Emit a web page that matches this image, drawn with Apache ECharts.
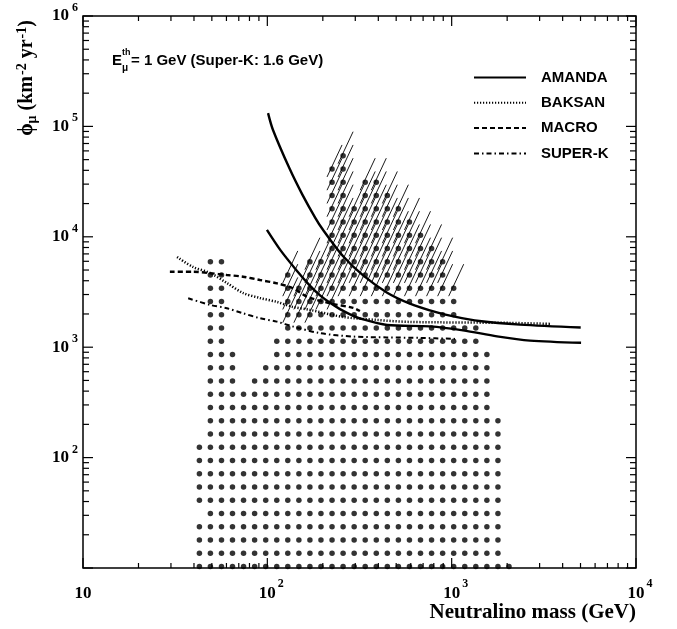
<!DOCTYPE html>
<html><head><meta charset="utf-8">
<script src="https://cdn.jsdelivr.net/npm/echarts@6/dist/echarts.min.js"></script>
<style>html,body{margin:0;padding:0;background:#fff}#c{width:677px;height:629px}</style>
</head><body><div id="c"></div>
<script>
// ---- data ----
// bin centres of the model grid (dots)
const massBins = [42.8, 49.1, 56.4, 64.7, 74.3, 85.3, 98.0, 112.5, 129.1, 148.3, 170.2, 195.4, 224.4, 257.6, 295.8, 339.6, 390.0, 447.7, 514.0, 590.2, 677.6, 778.0, 893.3, 1025.6, 1177.6, 1352.1, 1552.4, 1782.4, 2046.5];
const fluxBins = [10.34, 13.63, 17.97, 23.69, 31.23, 41.17, 54.28, 71.56, 94.3, 124.3, 163.9, 216.1, 284.9, 375.6, 495.1, 652.7, 860.5, 1134, 1495, 1971, 2598, 3425, 4515, 5952, 7847, 10340, 13630, 17970, 23690, 31230, 41170, 54280];
// occupied mass-bin ranges (inclusive) for each flux bin
const rowSpans = [
  [[0,28]], [[0,27]], [[0,27]], [[0,27]], [[1,27]],
  [[0,27]], [[0,27]], [[0,27]], [[0,27]], [[0,27]],
  [[1,27]], [[1,27]], [[1,26]], [[1,26]],
  [[1,3],[5,26]], [[1,3],[6,26]], [[1,3],[7,26]],
  [[1,2],[7,25]], [[1,2],[8,25]],
  [[1,2],[8,23]], [[1,2],[8,23]], [[1,2],[8,23]],
  [[1,2],[8,8],[10,22]], [[1,2],[10,22]],
  [[12,21]], [[12,20]], [[12,19]], [[12,18]],
  [[12,13],[15,17]], [[12,13],[15,16]], [[12,13]], [[13,13]]
];
// first hatched flux bin for each mass bin (null = no hatching)
const hatchFromRow = [null,null,null,null,null,null,null,null,19,19,19,20,20,21,21,21,21,21,21,21,21,21,21,21,21,21,21,21,21];

const amandaUpper = [[100.9,131800],[107.2,93300],[131.8,41700],[154.9,24100],[182,14860],[199.5,11700],[257,6700],[331,4467],[446.7,3119],[588.8,2500],[831.8,2065],[1023,1901],[1413,1726],[2344,1600],[5012,1507]];
const amandaLower = [[99.5,11535],[117.2,7656],[144.9,4909],[170.6,3597],[193.2,2951],[218.8,2523],[247.7,2213],[281.2,1986],[318.4,1820],[446.7,1589],[763.8,1545],[1153,1422],[1762,1253],[2661,1146],[5035,1096]];
const baksan = [[32.4,6560],[39.5,5330],[48.9,4700],[60.4,3815],[73.8,3100],[91.2,2790],[112.9,2570],[137.8,2315],[170.6,2175],[257.6,1880],[393.6,1765],[594,1694],[2075,1660],[3420,1626]];
const macro = [[29.6,4830],[39.5,4830],[48.9,4680],[60.4,4510],[73.8,4350],[91.2,4060],[112.9,3790],[137.8,3420],[164,2870],[218.8,2500],[291.7,2270],[318,2130]];
const superK = [[37.2,2775],[48.9,2415],[60.3,2255],[73.7,2030],[91.2,1830],[112.5,1705],[138.3,1536],[193,1340],[293,1248],[444,1227],[674,1214],[1042,1189]];

const xDecades = [10, 100, 1000, 10000];
const yDecades = [10, 100, 1000, 10000, 100000, 1000000];
const minorMult = [2,3,4,5,6,7,8,9];
const legendNames = ['AMANDA','BAKSAN','MACRO','SUPER-K'];

// ---- build marks ----
const X_MIN = 10, X_MAX = 10000, Y_MIN = 10, Y_MAX = 1000000;
const dots = [], hatched = [];
rowSpans.forEach((spans, j) => {
  spans.forEach(([a,b]) => {
    for (let i = a; i <= b; i++) {
      dots.push([massBins[i], fluxBins[j]]);
      if (hatchFromRow[i] !== null && j >= hatchFromRow[i]) hatched.push([massBins[i], fluxBins[j]]);
    }
  });
});
const ticks = [];
xDecades.forEach((d, k) => {
  ticks.push([d, 100, 0, 10]);
  if (k < xDecades.length - 1) minorMult.forEach(m => ticks.push([d*m, 100, 0, 5]));
});
yDecades.forEach((d, k) => {
  ticks.push([100, d, 1, 10]);
  if (k < yDecades.length - 1) minorMult.forEach(m => ticks.push([100, d*m, 1, 6]));
});

const SERIF = '"Liberation Serif","Times New Roman",serif';
const SANS = '"Liberation Sans",Arial,Helvetica,sans-serif';

const chart = echarts.init(document.getElementById('c'), null, {renderer:'canvas'});
const lineBase = {type:'line', showSymbol:false, symbol:'none', smooth:0.3, silent:true, z:5};
chart.setOption({
  animation:false,
  backgroundColor:'#fff',
  grid:{left:83, right:41, top:16, bottom:61, containLabel:false, outerBoundsMode:'none', show:true, borderColor:'#000', borderWidth:1.5, backgroundColor:'transparent'},
  xAxis:{type:'log', logBase:10, min:X_MIN, max:X_MAX,
    axisLine:{show:false}, axisTick:{show:false}, splitLine:{show:false}, minorTick:{show:false},
    axisLabel:{margin:10, color:'#000', showMinLabel:true, showMaxLabel:true,
      formatter:function(v){const e=Math.round(Math.log10(v)); return e===1?'{p|1}{b|10}{p|1}':'{p|'+e+'}{b|10}{s|'+e+'}';},
      rich:{b:{fontFamily:SERIF,fontWeight:'bold',fontSize:17,color:'#000'},
            s:{fontFamily:SERIF,fontWeight:'bold',fontSize:12,color:'#000',padding:[0,0,20,2]},
            p:{fontFamily:SERIF,fontWeight:'bold',fontSize:12,color:'rgba(0,0,0,0)',padding:[0,2,20,0]}}}},
  yAxis:{type:'log', logBase:10, min:Y_MIN, max:Y_MAX,
    axisLine:{show:false}, axisTick:{show:false}, splitLine:{show:false}, minorTick:{show:false},
    axisLabel:{margin:5, color:'#000', showMinLabel:true, showMaxLabel:true,
      formatter:function(v){const e=Math.round(Math.log10(v)); return e<=1?'':'{b|10}{s|'+e+'}';},
      rich:{b:{fontFamily:SERIF,fontWeight:'bold',fontSize:17,color:'#000'},
            s:{fontFamily:SERIF,fontWeight:'bold',fontSize:12,color:'#000',padding:[0,0,16,3]}}}},
  legend:{data:legendNames, orient:'vertical', left:473, top:70, padding:0, itemWidth:52, itemHeight:14, itemGap:10.3,
    selectedMode:false, itemStyle:{opacity:0},
    textStyle:{fontFamily:SANS, fontWeight:'bold', fontSize:15, color:'#000', padding:[0,0,0,10]}},
  graphic:[
    {type:'text', x:636, y:613, silent:true, style:{text:'Neutralino mass (GeV)', fontFamily:SERIF, fontWeight:'bold', fontSize:21, fill:'#000', align:'right', textAlign:'right', verticalAlign:'middle', textVerticalAlign:'middle'}},
    {type:'text', x:27, y:78, rotation:Math.PI/2, silent:true, style:{
      text:'{a|ϕ}{sub|μ}{a| (km}{sup|-2}{a| yr}{sup|-1}{a|)}',
      rich:{a:{fontFamily:SERIF,fontWeight:'bold',fontSize:20,fill:'#000'},
            sub:{fontFamily:SERIF,fontWeight:'bold',fontSize:14,fill:'#000',padding:[10,0,0,0]},
            sup:{fontFamily:SERIF,fontWeight:'bold',fontSize:14,fill:'#000',padding:[0,0,10,1]}},
      fill:'#000', align:'center', textAlign:'center', verticalAlign:'middle', textVerticalAlign:'middle'}},
    {type:'text', x:112, y:61, silent:true, style:{text:'E', fontFamily:SANS, fontWeight:'bold', fontSize:15, fill:'#000', verticalAlign:'middle', textVerticalAlign:'middle'}},
    {type:'text', x:122, y:53, silent:true, style:{text:'th', fontFamily:SANS, fontWeight:'bold', fontSize:9, fill:'#000', verticalAlign:'middle', textVerticalAlign:'middle'}},
    {type:'text', x:122, y:68, silent:true, style:{text:'μ', fontFamily:SANS, fontWeight:'bold', fontSize:10, fill:'#000', verticalAlign:'middle', textVerticalAlign:'middle'}},
    {type:'text', x:131, y:61, silent:true, style:{text:'= 1 GeV (Super-K: 1.6 GeV)', fontFamily:SANS, fontWeight:'bold', fontSize:15, fill:'#000', verticalAlign:'middle', textVerticalAlign:'middle'}}
  ],
  series:[
    {type:'scatter', name:'models', data:dots, symbol:'circle', symbolSize:5.5, itemStyle:{color:'#000'}, silent:true, clip:false, z:2},
    {type:'custom', name:'hatch', data:hatched, silent:true, z:3,
      renderItem:function(params, api){
        const p = api.coord([api.value(0), api.value(1)]);
        return {type:'line', shape:{x1:p[0]-5, y1:p[1]+8, x2:p[0]+10, y2:p[1]-24}, style:{stroke:'#000', lineWidth:0.9}};
      }},
    Object.assign({}, lineBase, {name:'AMANDA', data:amandaUpper, lineStyle:{color:'#000', width:2.4, type:'solid'}, itemStyle:{color:'#000'}}),
    Object.assign({}, lineBase, {name:'AMANDA', data:amandaLower, lineStyle:{color:'#000', width:2.4, type:'solid'}, itemStyle:{color:'#000'}}),
    Object.assign({}, lineBase, {name:'BAKSAN', data:baksan, lineStyle:{color:'#000', width:2.5, type:[1.2,1.8]}, itemStyle:{color:'#000'}}),
    Object.assign({}, lineBase, {name:'MACRO', data:macro, lineStyle:{color:'#000', width:2.4, type:[5,3]}, itemStyle:{color:'#000'}}),
    Object.assign({}, lineBase, {name:'SUPER-K', data:superK, lineStyle:{color:'#000', width:2, type:[5,3,1.5,3]}, itemStyle:{color:'#000'}}),
    {type:'custom', name:'ticks', data:ticks, silent:true, z:6,
      renderItem:function(params, api){
        const kind = api.value(2), len = api.value(3);
        const st = {stroke:'#000', lineWidth:1.2};
        if (kind === 0) {
          const v = api.value(0);
          const b = api.coord([v, Y_MIN]), t = api.coord([v, Y_MAX]);
          return {type:'group', children:[
            {type:'line', shape:{x1:b[0],y1:b[1],x2:b[0],y2:b[1]-len}, style:st},
            {type:'line', shape:{x1:t[0],y1:t[1],x2:t[0],y2:t[1]+len}, style:st}]};
        } else {
          const v = api.value(1);
          const l = api.coord([X_MIN, v]), r = api.coord([X_MAX, v]);
          return {type:'group', children:[
            {type:'line', shape:{x1:l[0],y1:l[1],x2:l[0]+len,y2:l[1]}, style:st},
            {type:'line', shape:{x1:r[0],y1:r[1],x2:r[0]-len,y2:r[1]}, style:st}]};
        }
      }}
  ]
});
</script></body></html>
